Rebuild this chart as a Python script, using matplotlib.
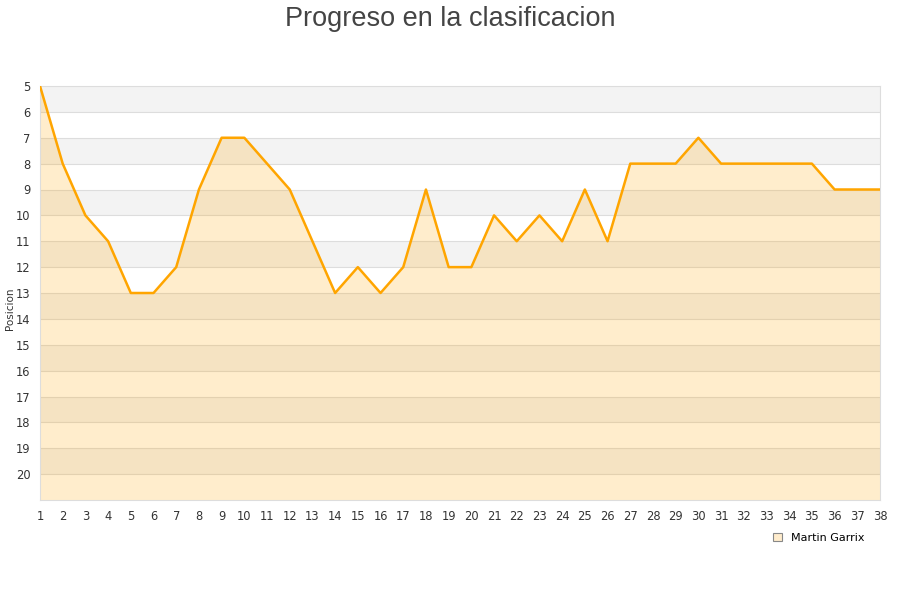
import matplotlib.pyplot as plt
from matplotlib.patches import Patch

# Jornadas y posicion de Martin Garrix
jornadas = list(range(1, 39))
posicion = [5, 8, 10, 11, 13, 13, 12, 9, 7, 7, 8, 9, 11, 13, 12, 13, 12, 9, 12, 12,
            10, 11, 10, 11, 9, 11, 8, 8, 8, 7, 8, 8, 8, 8, 8, 9, 9, 9]
y_ticks = list(range(5, 21))

fig = plt.figure(figsize=(9, 6), dpi=100)
ax = fig.add_axes([40 / 900, 100 / 600, 840 / 900, 414 / 600])

# Bandas alternas de fondo
for lo in range(5, 21, 2):
    ax.axhspan(lo, lo + 1, color='#f3f3f3', zorder=0, lw=0)
for v in range(6, 21):
    ax.axhline(v, color='#dddddd', lw=0.8, zorder=1)

ax.fill_between(jornadas, posicion, 21, color='#ffa500', alpha=0.2, lw=0, zorder=2)
ax.plot(jornadas, posicion, color='#ffa500', lw=1.8, zorder=3)

ax.set_xlim(1, 38)
ax.set_ylim(21, 5)
ax.set_xticks(jornadas)
ax.set_yticks(y_ticks)
ax.tick_params(axis='both', length=0, labelsize=8.3, colors='#333333', pad=7)
for s in ax.spines.values():
    s.set_color('#dddddd')

fig.text(0.011, 0.485, 'Posicion', rotation=90, fontsize=7.5, color='#333333',
         ha='center', va='center')
fig.text(0.5, 0.969, 'Progreso en la clasificacion', ha='center', va='center',
         fontsize=19.5, color='#444444', family='Liberation Sans')

handle = Patch(facecolor='#ffeccc', edgecolor='#888888', lw=0.8)
fig.legend([handle], ['Martin Garrix'], loc='center left',
           bbox_to_anchor=(0.848, 0.104), frameon=False, fontsize=8,
           handlelength=0.8, handleheight=0.8, handletextpad=0.8)

fig.savefig('out.png', dpi=100)
